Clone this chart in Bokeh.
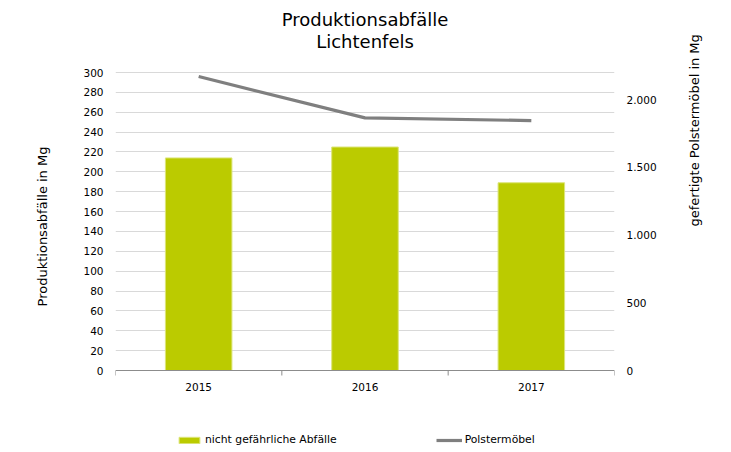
import math
from bokeh.plotting import figure
from bokeh.models import (Range1d, LinearAxis, FixedTicker, Legend, LegendItem,
                          CustomJSTickFormatter, Label, Span)
from bokeh.core.properties import value
from bokeh.embed import file_html
from bokeh.resources import INLINE

# ---- data ----
years = ["2015", "2016", "2017"]
abfaelle = [214, 225, 189]          # nicht gefährliche Abfälle (Mg), left axis
polster = [2170, 1865, 1845]        # Polstermöbel (Mg), right axis
left_ticks = [0, 20, 40, 60, 80, 100, 120, 140, 160, 180, 200, 220, 240, 260, 280, 300]
right_ticks = [0, 500, 1000, 1500, 2000]
left_max, right_max = 300, 2200

# ---- layout constants (pixels) ----
W, H = 731, 452
TOP, BOTTOM = 72, 82            # plot area top / bottom padding inside the frame
LEFT, RIGHT = 115, 117
FONT = "DejaVu Sans"

px_per_unit = (H - TOP - BOTTOM) / left_max
y_lo = -BOTTOM / px_per_unit
y_hi = left_max + TOP / px_per_unit
r_scale = right_max / left_max

xs = list(range(len(years)))

p = figure(width=W, height=H, output_backend="svg", toolbar_location=None,
           title=None, x_axis_location=None,
           x_range=Range1d(-0.5, len(years) - 0.5), y_range=Range1d(y_lo, y_hi),
           min_border_left=LEFT, min_border_right=RIGHT, min_border_top=0,
           min_border_bottom=0)
p.outline_line_color = None
p.background_fill_color = "white"
p.border_fill_color = "white"
p.extra_y_ranges = {"right": Range1d(y_lo * r_scale, y_hi * r_scale)}
for g in p.xgrid:
    g.visible = False

# grid
p.ygrid.grid_line_color = "#D9D9D9"
p.ygrid.grid_line_width = 1
p.ygrid.ticker = FixedTicker(ticks=left_ticks[1:])

# titles
frame_w = W - LEFT - RIGHT
p.add_layout(Label(x=frame_w / 2, y=H - 19, x_units="screen", y_units="screen",
                   text="Produktionsabfälle", text_align="center", text_baseline="middle",
                   text_font=FONT, text_font_size="18px", text_color="#000000"))
p.add_layout(Label(x=frame_w / 2, y=H - 41, x_units="screen", y_units="screen",
                   text="Lichtenfels", text_align="center", text_baseline="middle",
                   text_font=FONT, text_font_size="18px", text_color="#000000"))

bars = p.vbar(x=xs, top=abfaelle, width=0.4, bottom=0, fill_color="#BBCB00",
              line_color="#DCE57A", line_width=1)
line = p.line(x=xs, y=polster, y_range_name="right", line_color="#7F7F7F",
              line_width=3.2)

# category axis drawn at y = 0
p.add_layout(Span(location=0, dimension="width", line_color="#8C8C8C", line_width=1))
bounds = [i - 0.5 for i in range(len(years) + 1)]
p.segment(x0=bounds, y0=[0] * len(bounds), x1=bounds,
          y1=[-5 / px_per_unit] * len(bounds), line_color="#8C8C8C", line_width=1)
p.text(x=xs, y=[0] * len(xs), text=years, y_offset=16, text_align="center",
       text_baseline="middle", text_font=value(FONT), text_font_size="10.5px",
       text_color="#000000")

# left axis
ya = p.yaxis[0]
ya.ticker = FixedTicker(ticks=left_ticks)
ya.axis_line_color = None
ya.major_tick_line_color = None
ya.minor_tick_line_color = None
ya.major_tick_out = 0
ya.major_tick_in = 0
ya.major_label_standoff = 12
ya.major_label_text_font = FONT
ya.major_label_text_font_size = "10.5px"
ya.major_label_text_color = "#000000"
ya.axis_label = "Produktionsabfälle in Mg"
ya.axis_label_text_font = FONT
ya.axis_label_text_font_size = "13px"
ya.axis_label_text_font_style = "normal"
ya.axis_label_text_color = "#000000"
ya.axis_label_standoff = 30

# right axis
ra = LinearAxis(y_range_name="right", ticker=FixedTicker(ticks=right_ticks))
ra.formatter = CustomJSTickFormatter(
    code="return tick.toFixed(0).replace(/\\B(?=(\\d{3})+(?!\\d))/g, '.');")
ra.axis_line_color = None
ra.major_tick_line_color = None
ra.minor_tick_line_color = None
ra.major_tick_out = 0
ra.major_tick_in = 0
ra.major_label_standoff = 12
ra.major_label_text_font = FONT
ra.major_label_text_font_size = "10.5px"
ra.major_label_text_color = "#000000"
ra.axis_label = "gefertigte Polstermöbel in Mg"
ra.axis_label_text_font = FONT
ra.axis_label_text_font_size = "13px"
ra.axis_label_text_font_style = "normal"
ra.axis_label_text_color = "#000000"
ra.axis_label_text_align = "center"
ra.axis_label_standoff = 35
ra.axis_label_orientation = math.pi / 2
p.add_layout(ra, "right")

# legend inside the (full-height) frame, at the bottom
legend = Legend(items=[LegendItem(label="nicht gefährliche Abfälle", renderers=[bars]),
                       LegendItem(label="Polstermöbel", renderers=[line])],
                orientation="horizontal", location=(61, 6))
legend.margin = 0
legend.padding = 0
legend.spacing = 99
legend.glyph_width = 26
legend.glyph_height = 8
legend.label_width = 80
legend.label_height = 12
legend.label_standoff = 3
legend.label_text_font = FONT
legend.label_text_font_size = "10.8px"
legend.label_text_color = "#000000"
legend.border_line_color = None
legend.background_fill_alpha = 0
p.add_layout(legend)

open("out.html", "w").write(file_html(p, INLINE))
